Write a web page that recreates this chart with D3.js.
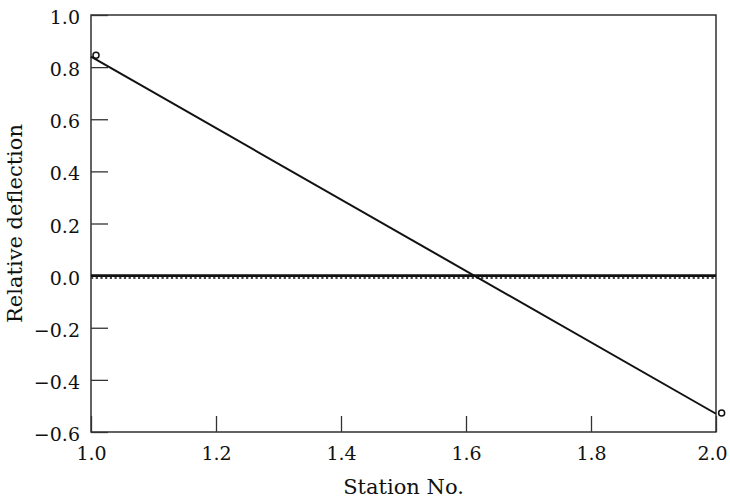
<!DOCTYPE html>
<html><head><meta charset="utf-8">
<script src="https://cdn.jsdelivr.net/npm/d3@7/dist/d3.min.js"></script>
<style>body{margin:0;background:#fff;} svg{display:block;}</style>
</head><body>
<script>
const xTicks = [1.0, 1.2, 1.4, 1.6, 1.8, 2.0];
const yTicks = [-0.6, -0.4, -0.2, 0.0, 0.2, 0.4, 0.6, 0.8, 1.0];
const deflStation = [1.0, 2.0];
const deflValue = [0.84, -0.53];
const markerStation = [1.008, 2.009];
const markerValue = [0.846, -0.527];
const zeroStation = [1.0, 2.0];
const zeroValue = [0.0, 0.0];

const W = 730, H = 498;
const m = {left: 91, right: 14, top: 15, bottom: 66};
const svg = d3.select("body").append("svg").attr("width", W).attr("height", H);
const x = d3.scaleLinear().domain([1.0, 2.0]).range([m.left, W - m.right]);
const y = d3.scaleLinear().domain([-0.6, 1.0]).range([H - m.bottom, m.top]);
const font = "'DejaVu Serif', serif";
const fs = 19;
const fmt = d => (d < 0 ? "\u2212" : "") + Math.abs(d).toFixed(1);

// frame
svg.append("rect").attr("x", x(1)).attr("y", y(1)).attr("width", x(2) - x(1)).attr("height", y(-0.6) - y(1))
  .attr("fill", "none").attr("stroke", "#222").attr("stroke-width", 1.4);

// axes with inward ticks
const xAxis = svg.append("g").attr("transform", `translate(0,${y(-0.6)})`)
  .call(d3.axisBottom(x).tickValues(xTicks).tickSize(-16).tickPadding(15).tickFormat(fmt));
const yAxis = svg.append("g").attr("transform", `translate(${x(1)},0)`)
  .call(d3.axisLeft(y).tickValues(yTicks).tickSize(-17).tickPadding(11).tickFormat(fmt));
[xAxis, yAxis].forEach(g => {
  g.select(".domain").remove();
  g.selectAll(".tick line").attr("stroke", "#333").attr("stroke-width", 1.3);
  g.selectAll(".tick text").attr("font-family", font).attr("font-size", fs).attr("fill", "#111");
});
xAxis.selectAll(".tick text").filter(d => d === 2.0).attr("dx", -4);
yAxis.selectAll(".tick text").attr("dy", "0.45em");

// zero series
const zeroPts = zeroStation.map((s, i) => [s, zeroValue[i]]);
const ln = d3.line().x(d => x(d[0])).y(d => y(d[1]));
svg.append("path").attr("d", ln(zeroPts)).attr("transform", "translate(0,2.2)")
  .attr("stroke", "#444").attr("stroke-width", 2.4).attr("stroke-dasharray", "2.2,2.5").attr("fill", "none");
svg.append("path").attr("d", ln(zeroPts)).attr("stroke", "#111").attr("stroke-width", 2.6).attr("fill", "none");

// deflection line
const defPts = deflStation.map((s, i) => [s, deflValue[i]]);
svg.append("path").attr("d", ln(defPts)).attr("stroke", "#111").attr("stroke-width", 2).attr("fill", "none");

// markers
svg.selectAll("circle.mk").data(markerStation.map((s, i) => [s, markerValue[i]])).enter()
  .append("circle").attr("class", "mk").attr("cx", d => x(d[0])).attr("cy", d => y(d[1])).attr("r", 3)
  .attr("fill", "none").attr("stroke", "#111").attr("stroke-width", 1.5);

// axis titles
svg.append("text").attr("x", (x(1) + x(2)) / 2).attr("y", 494).attr("text-anchor", "middle")
  .attr("font-family", font).attr("font-size", 21).attr("fill", "#111").text("Station No.");
svg.append("text").attr("transform", `translate(22,${(y(1) + y(-0.6)) / 2}) rotate(-90)`).attr("text-anchor", "middle")
  .attr("font-family", font).attr("font-size", 21).attr("fill", "#111").text("Relative deflection");
</script>
</body></html>
